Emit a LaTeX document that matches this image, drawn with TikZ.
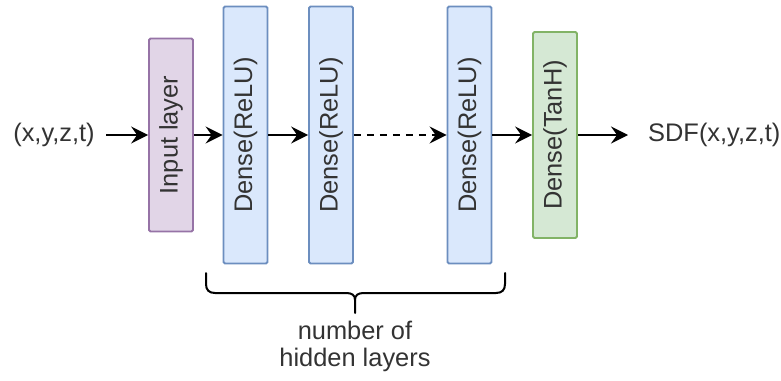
\documentclass[tikz,border=0pt]{standalone}
\usepackage{fontspec}
\setmainfont{Liberation Sans}
\usetikzlibrary{arrows.meta}
\definecolor{purplefill}{HTML}{E1D5E7}
\definecolor{purpleline}{HTML}{9673A6}
\definecolor{bluefill}{HTML}{DAE8FC}
\definecolor{blueline}{HTML}{6C8EBF}
\definecolor{greenfill}{HTML}{D5E8D4}
\definecolor{greenline}{HTML}{82B366}
\definecolor{txt}{HTML}{333333}
\tikzset{
  layer/.style={rectangle, rotate=90, rounded corners=1.5pt, line width=1.8pt,
    minimum height=44pt, inner sep=0pt, text=txt,
    font=\fontsize{25.4pt}{28pt}\selectfont},
  inlayer/.style={layer, draw=purpleline, fill=purplefill, minimum width=193pt},
  relu/.style={layer, draw=blueline, fill=bluefill, minimum width=257pt},
  tanh/.style={layer, draw=greenline, fill=greenfill, minimum width=206pt},
  lbl/.style={text=txt, inner sep=0pt, font=\fontsize{25.4pt}{27pt}\selectfont},
  conn/.style={line width=2pt, arrows={-Stealth[length=17pt 0 0, width=17pt 0 0, inset=6pt 0 0]}},
  brace/.style={line width=2pt, line cap=round, line join=round}
}
\begin{document}
\begin{tikzpicture}[x=1pt,y=-1pt]
\useasboundingbox (0,0) rectangle (781,380);
\node[lbl] (in) at (54,135) {(x,y,z,t)};
\node[inlayer] (l0) at (171,135) {Input layer};
\node[relu] (l1) at (245.5,135) {Dense(ReLU)};
\node[relu] (l2) at (331,135) {Dense(ReLU)};
\node[relu] (l3) at (469.5,135) {Dense(ReLU)};
\node[tanh] (l4) at (555,135) {Dense(TanH)};
\node[lbl, anchor=west] (out) at (648,135) {SDF(x,y,z,t)};
\coordinate (inend) at (106,135);
\coordinate (outend) at (628,135);
\draw[conn] (inend) -- (l0.north);
\draw[conn] (l0.south) -- (l1.north);
\draw[conn] (l1.south) -- (l2.north);
\draw[conn, dash pattern=on 7pt off 6pt] (l2.south) -- (l3.north);
\draw[conn] (l3.south) -- (l4.north);
\draw[conn] (l4.south) -- (outend);
% brace
\draw[brace] (206,273) -- (206,284) .. controls (206,290) and (209,293) .. (215,293)
  -- (346,293) .. controls (352,293) and (355,295) .. (355,300) -- (355,313);
\draw[brace] (505,273) -- (505,284) .. controls (505,290) and (502,293) .. (496,293)
  -- (364,293) .. controls (358,293) and (355,295) .. (355,300);
\node[lbl, align=center, anchor=north] (cap) at (355,321) {number of\\hidden layers};
\end{tikzpicture}
\end{document}
